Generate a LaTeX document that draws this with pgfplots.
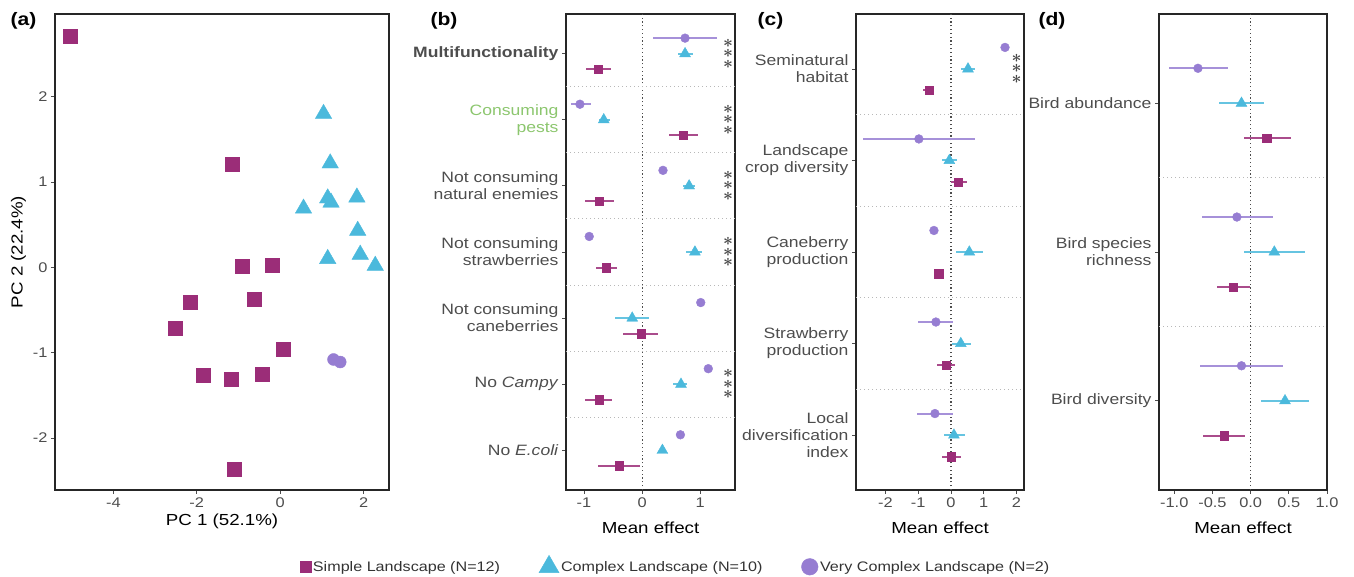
\documentclass[border=0pt]{standalone}
\usepackage{pgfplots}
\usepackage{pgfplotstable}
\pgfplotsset{compat=1.18}
\usepackage{fontspec}
\setmainfont[FakeStretch=1.17]{Liberation Sans}
\definecolor{csq}{RGB}{155,45,120}
\definecolor{ctri}{RGB}{75,185,220}
\definecolor{ccirc}{RGB}{150,125,210}
\definecolor{gtxt}{RGB}{77,77,77}
\definecolor{cgreen}{RGB}{140,198,110}

% panel (a) PCA
\pgfplotstableread{
x y
-5.04 2.71
-1.15 1.21
-0.91 0.01
-0.19 0.02
-2.16 -0.41
-0.63 -0.37
-2.52 -0.71
0.08 -0.96
-1.85 -1.27
-1.18 -1.31
-0.44 -1.25
-1.10 -2.37
}\pcasq
\pgfplotstableread{
x y
1.04 1.80
1.20 1.22
0.56 0.69
1.14 0.81
1.22 0.76
1.84 0.82
1.86 0.43
1.14 0.10
1.92 0.15
2.28 0.02
}\pcatri
\pgfplotstableread{
x y
1.28 -1.08
1.44 -1.11
}\pcacirc

% panel (b)
\pgfplotstableread{
y x lo hi
7.235 0.74 0.19 1.29
6.235 -1.07 -1.22 -0.88
5.235 0.36 0.36 0.36
4.235 -0.91 -0.91 -0.91
3.235 1.01 1.01 1.01
2.235 1.14 1.14 1.14
1.235 0.66 0.66 0.66
}\bcirc
\pgfplotstableread{
y x lo hi
7 0.74 0.62 0.88
6 -0.66 -0.74 -0.55
5 0.81 0.71 0.91
4 0.91 0.76 1.03
3 -0.17 -0.46 0.12
2 0.67 0.54 0.78
1 0.35 0.35 0.35
}\btri
\pgfplotstableread{
y x lo hi
6.765 -0.76 -0.97 -0.53
5.765 0.71 0.47 0.97
4.765 -0.74 -0.98 -0.49
3.765 -0.62 -0.80 -0.43
2.765 -0.02 -0.33 0.28
1.765 -0.74 -0.98 -0.52
0.765 -0.39 -0.76 -0.03
}\bsq

% panel (c)
\pgfplotstableread{
y x lo hi
5.235 1.65 1.65 1.65
4.235 -0.98 -2.68 0.73
3.235 -0.52 -0.52 -0.52
2.235 -0.46 -1.00 0.06
1.235 -0.49 -1.04 0.06
}\ccirc
\pgfplotstableread{
y x lo hi
5 0.52 0.30 0.73
4 -0.05 -0.27 0.18
3 0.56 0.15 0.98
2 0.30 0.03 0.61
1 0.09 -0.22 0.42
}\ctriang
\pgfplotstableread{
y x lo hi
4.765 -0.67 -0.85 -0.52
3.765 0.22 0.00 0.49
2.765 -0.37 -0.37 -0.37
1.765 -0.15 -0.43 0.13
0.765 0.00 -0.26 0.30
}\csqr

% panel (d)
\pgfplotstableread{
y x lo hi
3.235 -0.69 -1.07 -0.30
2.235 -0.18 -0.64 0.29
1.235 -0.12 -0.66 0.42
}\dcirc
\pgfplotstableread{
y x lo hi
3 -0.12 -0.41 0.17
2 0.31 -0.09 0.71
1 0.45 0.13 0.76
}\dtri
\pgfplotstableread{
y x lo hi
2.765 0.21 -0.09 0.53
1.765 -0.23 -0.44 -0.01
0.765 -0.35 -0.63 -0.08
}\dsq

\pgfplotsset{
  panel/.style={scale only axis, height=476pt, anchor=south west, clip=false,
    axis line style={line width=1.3pt, black!85},
    tick align=outside, tick pos=left, major tick length=4pt,
    tick style={gtxt, line width=0.8pt},
    tick label style={font=\fontsize{14}{14}\selectfont, text=gtxt},
    label style={font=\fontsize{16}{16}\selectfont, text=black},
    /pgf/number format/assume math mode=true},
  forest/.style={panel, width=#1,
    yticklabel style={align=right, font=\fontsize{15}{17}\selectfont, text=gtxt},
    xlabel={Mean effect},
    extra x ticks={0}, extra x tick labels={},
    extra x tick style={grid=major, tick style={draw=none},
      major grid style={dash pattern=on 1.2pt off 2.6pt, line width=1.1pt, gtxt}},
    extra y tick labels={},
    extra y tick style={grid=major, tick style={draw=none},
      major grid style={dash pattern=on 1pt off 3pt, line width=1pt, black!28}}},
  eb/.style={error bars/.cd, x dir=both, x explicit, error mark=none,
    error bar style={line width=2pt, #1}},
}
\tikzset{stars/.style={align=center, inner sep=0pt, text=black!72, font=\fontsize{17}{10.5}\selectfont}}
\newcommand{\stars}{{\boldmath$\ast$}\\{\boldmath$\ast$}\\{\boldmath$\ast$}}

\begin{document}
\begin{tikzpicture}
\path[use as bounding box] (0,0) rectangle (1354pt,577pt);

% ---------------- (a)
\begin{axis}[panel, at={(55pt,87pt)}, width=334pt,
  xmin=-5.4, xmax=2.61, ymin=-2.61, ymax=2.97,
  xtick={-4,-2,0,2}, ytick={-2,-1,0,1,2},
  xlabel={PC 1 (52.1\%)}, ylabel={PC 2 (22.4\%)},
  legend style={draw=none, fill=none, legend columns=3,
    at={(1.858,-0.158)}, anchor=center,
    font=\fontsize{13.8}{15}\selectfont, text=black!80,
    /tikz/every even column/.append style={column sep=37pt}},
  legend cell align=left]
\addplot[only marks, mark=square*, mark size=7pt, color=csq,
  legend image post style={mark size=5.6pt}] table {\pcasq};
\addlegendentry{Simple Landscape (N=12)}
\addplot[only marks, mark=triangle*, mark size=9.5pt, color=ctri,
  legend image post style={mark size=11.5pt}] table {\pcatri};
\addlegendentry{Complex Landscape (N=10)}
\addplot[only marks, mark=*, mark size=6pt, color=ccirc,
  legend image post style={mark size=8.3pt}] table {\pcacirc};
\addlegendentry{Very Complex Landscape (N=2)}
\end{axis}

% ---------------- (b)
\begin{axis}[forest=169pt, at={(566pt,87pt)},
  xmin=-1.31, xmax=1.6, ymin=0.4, ymax=7.6,
  xtick={-1,0,1}, ytick={1,...,7},
  extra y ticks={1.5,2.5,3.5,4.5,5.5,6.5},
  yticklabels={No \textit{E.coli}, No \textit{Campy}, Not consuming\\caneberries,
    Not consuming\\strawberries, Not consuming\\natural enemies,
    \textcolor{cgreen}{Consuming}\\\textcolor{cgreen}{pests},
    \textbf{Multifunctionality}}]
\addplot[only marks, mark=*, mark size=4.4pt, color=ccirc, eb={ccirc!85}]
  table[x=x, y=y, x error plus expr=\thisrow{hi}-\thisrow{x}, x error minus expr=\thisrow{x}-\thisrow{lo}] {\bcirc};
\addplot[only marks, mark=triangle*, mark size=6.3pt, color=ctri, eb={ctri!85}]
  table[x=x, y=y, x error plus expr=\thisrow{hi}-\thisrow{x}, x error minus expr=\thisrow{x}-\thisrow{lo}] {\btri};
\addplot[only marks, mark=square*, mark size=4.2pt, color=csq, eb={csq!85}]
  table[x=x, y=y, x error plus expr=\thisrow{hi}-\thisrow{x}, x error minus expr=\thisrow{x}-\thisrow{lo}] {\bsq};
\node[stars] at (axis cs:1.48,7) {\stars};
\node[stars] at (axis cs:1.48,6) {\stars};
\node[stars] at (axis cs:1.48,5) {\stars};
\node[stars] at (axis cs:1.48,4) {\stars};
\node[stars] at (axis cs:1.48,2) {\stars};
\end{axis}

% ---------------- (c)
\begin{axis}[forest=168pt, at={(856pt,87pt)},
  xmin=-2.9, xmax=2.23, ymin=0.4, ymax=5.6,
  xtick={-2,-1,0,1,2}, ytick={1,...,5},
  extra y ticks={1.5,2.5,3.5,4.5},
  yticklabels={Local\\diversification\\index, Strawberry\\production,
    Caneberry\\production, Landscape\\crop diversity, Seminatural\\habitat}]
\addplot[only marks, mark=*, mark size=4.4pt, color=ccirc, eb={ccirc!85}]
  table[x=x, y=y, x error plus expr=\thisrow{hi}-\thisrow{x}, x error minus expr=\thisrow{x}-\thisrow{lo}] {\ccirc};
\addplot[only marks, mark=triangle*, mark size=6.3pt, color=ctri, eb={ctri!85}]
  table[x=x, y=y, x error plus expr=\thisrow{hi}-\thisrow{x}, x error minus expr=\thisrow{x}-\thisrow{lo}] {\ctriang};
\addplot[only marks, mark=square*, mark size=4.2pt, color=csq, eb={csq!85}]
  table[x=x, y=y, x error plus expr=\thisrow{hi}-\thisrow{x}, x error minus expr=\thisrow{x}-\thisrow{lo}] {\csqr};
\node[stars] at (axis cs:2.0,5) {\stars};
\end{axis}

% ---------------- (d)
\begin{axis}[forest=168pt, at={(1159pt,87pt)},
  xmin=-1.2, xmax=1.0, ymin=0.4, ymax=3.6,
  xtick={-1,-0.5,0,0.5,1}, ytick={1,2,3},
  xticklabel style={/pgf/number format/.cd, fixed, fixed zerofill, precision=1},
  extra y ticks={1.5,2.5},
  yticklabels={Bird diversity, Bird species\\richness, Bird abundance}]
\addplot[only marks, mark=*, mark size=4.4pt, color=ccirc, eb={ccirc!85}]
  table[x=x, y=y, x error plus expr=\thisrow{hi}-\thisrow{x}, x error minus expr=\thisrow{x}-\thisrow{lo}] {\dcirc};
\addplot[only marks, mark=triangle*, mark size=6.3pt, color=ctri, eb={ctri!85}]
  table[x=x, y=y, x error plus expr=\thisrow{hi}-\thisrow{x}, x error minus expr=\thisrow{x}-\thisrow{lo}] {\dtri};
\addplot[only marks, mark=square*, mark size=4.2pt, color=csq, eb={csq!85}]
  table[x=x, y=y, x error plus expr=\thisrow{hi}-\thisrow{x}, x error minus expr=\thisrow{x}-\thisrow{lo}] {\dsq};
\end{axis}

% panel letters
\node[anchor=west, font=\bfseries\fontsize{18}{18}\selectfont] at (7pt,556pt) {(a)};
\node[anchor=west, font=\bfseries\fontsize{18}{18}\selectfont] at (427pt,556pt) {(b)};
\node[anchor=west, font=\bfseries\fontsize{18}{18}\selectfont] at (754pt,556pt) {(c)};
\node[anchor=west, font=\bfseries\fontsize{18}{18}\selectfont] at (1035pt,556pt) {(d)};
\end{tikzpicture}
\end{document}
